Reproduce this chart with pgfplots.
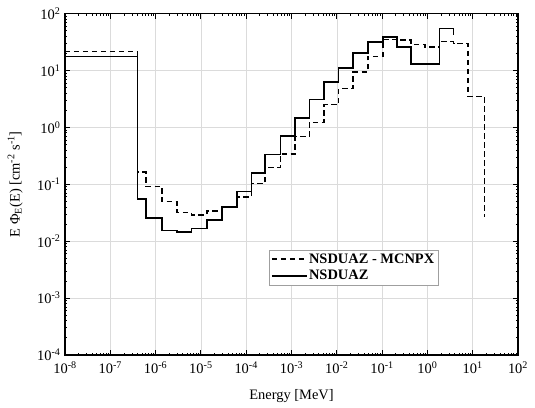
\documentclass[border=0pt]{standalone}
\usepackage{fontspec}
\setmainfont{Liberation Serif}
\usepackage{pgfplots}
\pgfplotsset{compat=1.18}

\newcommand{\lblfont}{\fontsize{14.5}{16}\selectfont}

\begin{document}
\begin{tikzpicture}
\useasboundingbox (-65bp,-53bp) rectangle (470bp,355bp);
\begin{axis}[
  at={(0,0)}, anchor=south west,
  scale only axis, width=453bp, height=341.5bp,
  xmode=log, ymode=log, log basis x=10, log basis y=10,
  xmin=1e-8, xmax=1e2, ymin=1e-4, ymax=1e2,
  xtick={1e-8,1e-7,1e-6,1e-5,1e-4,1e-3,1e-2,1e-1,1,1e1,1e2},
  ytick={1e-4,1e-3,1e-2,1e-1,1,1e1,1e2},
  minor xtick={
    2e-8,3e-8,4e-8,5e-8,6e-8,7e-8,8e-8,9e-8,
    2e-7,3e-7,4e-7,5e-7,6e-7,7e-7,8e-7,9e-7,
    2e-6,3e-6,4e-6,5e-6,6e-6,7e-6,8e-6,9e-6,
    2e-5,3e-5,4e-5,5e-5,6e-5,7e-5,8e-5,9e-5,
    2e-4,3e-4,4e-4,5e-4,6e-4,7e-4,8e-4,9e-4,
    2e-3,3e-3,4e-3,5e-3,6e-3,7e-3,8e-3,9e-3,
    2e-2,3e-2,4e-2,5e-2,6e-2,7e-2,8e-2,9e-2,
    0.2,0.3,0.4,0.5,0.6,0.7,0.8,0.9,
    2,3,4,5,6,7,8,9,
    20,30,40,50,60,70,80,90},
  minor ytick={
    2e-4,3e-4,4e-4,5e-4,6e-4,7e-4,8e-4,9e-4,
    2e-3,3e-3,4e-3,5e-3,6e-3,7e-3,8e-3,9e-3,
    2e-2,3e-2,4e-2,5e-2,6e-2,7e-2,8e-2,9e-2,
    0.2,0.3,0.4,0.5,0.6,0.7,0.8,0.9,
    2,3,4,5,6,7,8,9,
    20,30,40,50,60,70,80,90},
  xticklabel={\pgfmathparse{int(round(\tick))}10\textsuperscript{\pgfmathresult}},
  yticklabel={\pgfmathparse{int(round(\tick))}10\textsuperscript{\pgfmathresult}},
  tick label style={font=\lblfont},
  xticklabel style={yshift=-3bp},
  yticklabel style={xshift=-1bp},
  xlabel={Energy [MeV]},
  ylabel={E Φ\textsubscript{E}(E) [cm\textsuperscript{-2} s\textsuperscript{-1}]},
  every axis x label/.style={at={(axis description cs:0.5,-0.12)}, anchor=center, font=\lblfont},
  every axis y label/.style={at={(axis description cs:-0.11,0.5)}, anchor=center, rotate=90, font=\lblfont},
  tick align=inside, xtick pos=both, ytick pos=both,
  major tick length=5bp, minor tick length=2.5bp,
  axis line style={line width=1.1bp},
  every tick/.style={black, line width=0.8bp},
  grid=major, grid style={gray!28, line width=0.5bp},
  legend cell align=left,
  legend image code/.code={\draw[#1] (0bp,0bp) -- (35bp,0bp);},
  legend style={at={(0.450,0.205)}, anchor=south west, draw=gray!75,
    fill=white, font=\lblfont\bfseries, inner sep=2bp, row sep=2.5bp,
    nodes={inner sep=1.5bp}},
]
\addplot[black, line width=1.5bp, dash pattern=on 5.5bp off 3.5bp, const plot] coordinates {
(1e-8,21.7)(4.0e-7,0.163)(6.2e-7,0.091)(1.38e-6,0.0496)(2.95e-6,0.032)
(6.2e-6,0.029)(1.35e-5,0.034)(2.9e-5,0.041)(6.2e-5,0.060)(1.32e-4,0.103)
(2.6e-4,0.195)(5.7e-4,0.34)(1.2e-3,0.69)(2.5e-3,1.22)(5.25e-3,2.5)
(1.1e-2,4.8)(2.3e-2,9.35)(4.9e-2,17.7)(0.1035,35)(0.211,34)
(0.436,28.5)(0.89,25.6)(1.84,32.5)(3.77,30)(7.83,3.5)(18.2,0.027)};
\addlegendentry{NSDUAZ - MCNPX}
\addplot[black, line width=1.5bp, const plot] coordinates {
(1e-8,17.7)(4.0e-7,0.055)(6.2e-7,0.0253)(1.38e-6,0.0153)(2.95e-6,0.0145)
(6.2e-6,0.0166)(1.35e-5,0.0236)(2.9e-5,0.040)(6.2e-5,0.074)(1.32e-4,0.157)
(2.6e-4,0.33)(5.7e-4,0.71)(1.2e-3,1.46)(2.5e-3,3.06)(5.25e-3,6.2)
(1.1e-2,11.1)(2.3e-2,20.3)(4.9e-2,31.9)(0.1035,38.8)(0.211,25.9)
(0.436,13.0)(1.84,54.5)(3.77,42.6)};
\addlegendentry{NSDUAZ}
\end{axis}
\end{tikzpicture}
\end{document}
